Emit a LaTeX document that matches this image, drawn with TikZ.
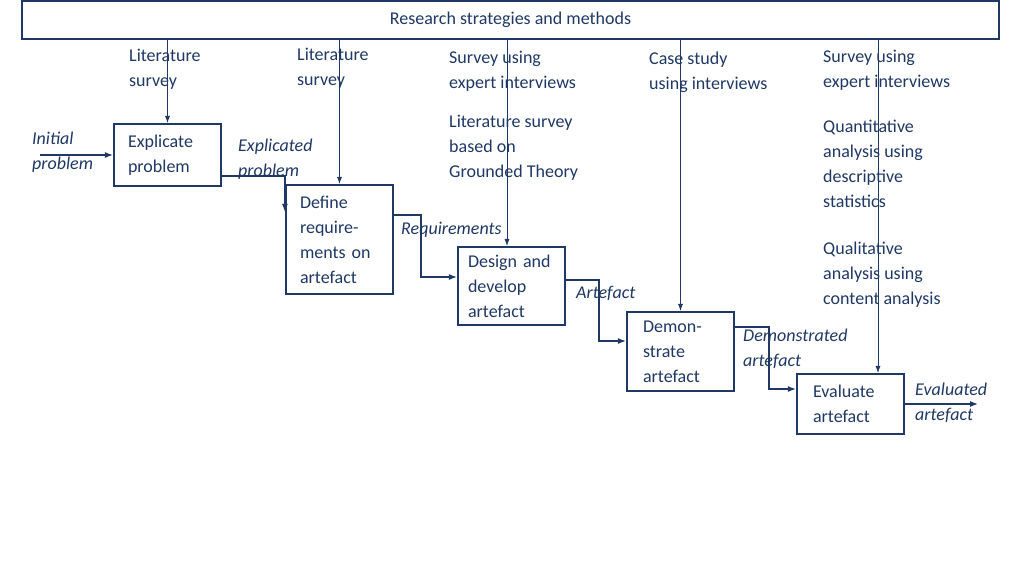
\documentclass[tikz,border=0pt]{standalone}
\usepackage{fontspec}
\setmainfont{Carlito}
\definecolor{navy}{HTML}{1F3864}
\begin{document}
\begin{tikzpicture}[x=1pt,y=-1pt,
  every node/.style={text=navy,font=\fontsize{18}{25}\selectfont},
  box/.style={draw=navy,line width=2.2pt,align=left,inner sep=0pt},
  lab/.style={anchor=north west,align=left,inner sep=0pt},
  ilab/.style={lab,font=\fontsize{18}{25}\selectfont\itshape},
  thinarr/.style={draw=navy,line width=0.6pt,-{Latex[length=7pt,width=5pt]}},
  flow/.style={draw=navy,line width=1.2pt,-{Latex[length=8pt,width=6pt]}}]
\useasboundingbox (0,0) rectangle (1024,576);
\usetikzlibrary{arrows.meta}
\node[draw=navy,line width=1.6pt,minimum width=977pt,minimum height=38pt,inner sep=0pt] (top) at (510.5,20) {Research strategies and methods};
\node[box,minimum width=107pt,minimum height=62pt,text width=79pt] (ex) at (167.5,155) {Explicate\\problem};
\node[box,minimum width=107pt,minimum height=109pt,text width=79pt] (de) at (339.5,239.5) {Define\\require-\\ments on\\artefact};
\node[box,minimum width=107pt,minimum height=78pt,text width=87pt] (ds) at (511.5,286) {Design and\\develop\\artefact};
\node[box,minimum width=107pt,minimum height=79pt,text width=75pt] (dm) at (680.5,351.5) {Demon-\\strate\\artefact};
\node[box,minimum width=107pt,minimum height=60pt,text width=75pt] (ev) at (850.5,404) {Evaluate\\artefact};
\node[lab] (l1) at (129,49) {Literature\\survey};
\node[lab] (l2) at (297,48) {Literature\\survey};
\node[lab] (l3) at (449,51) {Survey using\\expert interviews};
\node[lab] (l4) at (649,52) {Case study\\using interviews};
\node[lab] (l5) at (823,50) {Survey using\\expert interviews};
\node[lab] (l6) at (449,115) {Literature survey\\based on\\Grounded Theory};
\node[lab] (l7) at (823,120) {Quantitative\\analysis using\\descriptive\\statistics};
\node[lab] (l8) at (823,242) {Qualitative\\analysis using\\content analysis};
\node[ilab] (i1) at (32,132) {Initial\\problem};
\node[ilab] (i2) at (238,139) {Explicated\\problem};
\node[ilab] (i3) at (401,222) {Requirements};
\node[ilab] (i4) at (576,286) {Artefact};
\node[ilab] (i5) at (743,329) {Demonstrated\\artefact};
\node[ilab] (i6) at (915,383) {Evaluated\\artefact};
\coordinate (c1) at (40,155);
\coordinate (c2) at (978,404);
\coordinate (x3) at (507,0);
\coordinate (x5) at (878,0);
\draw[thinarr] (top.south -| ex.north) -- (ex.north);
\draw[thinarr] (top.south -| de.north) -- (de.north);
\draw[thinarr] (top.south -| x3) -- (ds.north -| x3);
\draw[thinarr] (top.south -| dm.north) -- (dm.north);
\draw[thinarr] (top.south -| x5) -- (ev.north -| x5);
\draw[flow] (c1) -- (c1 -| ex.west);
\draw[flow] (ex.east |- 0,176) -| ([yshift=-28pt]de.north west);
\draw[flow] (de.east |- 0,215) -| (421,277) -- (ds.west |- 0,277);
\draw[flow] (ds.east |- 0,280) -| (599,341) -- (dm.west |- 0,341);
\draw[flow] (dm.east |- 0,327) -| (769,389) -- (ev.west |- 0,389);
\draw[flow] (ev.east |- c2) -- (c2);
\end{tikzpicture}
\end{document}
